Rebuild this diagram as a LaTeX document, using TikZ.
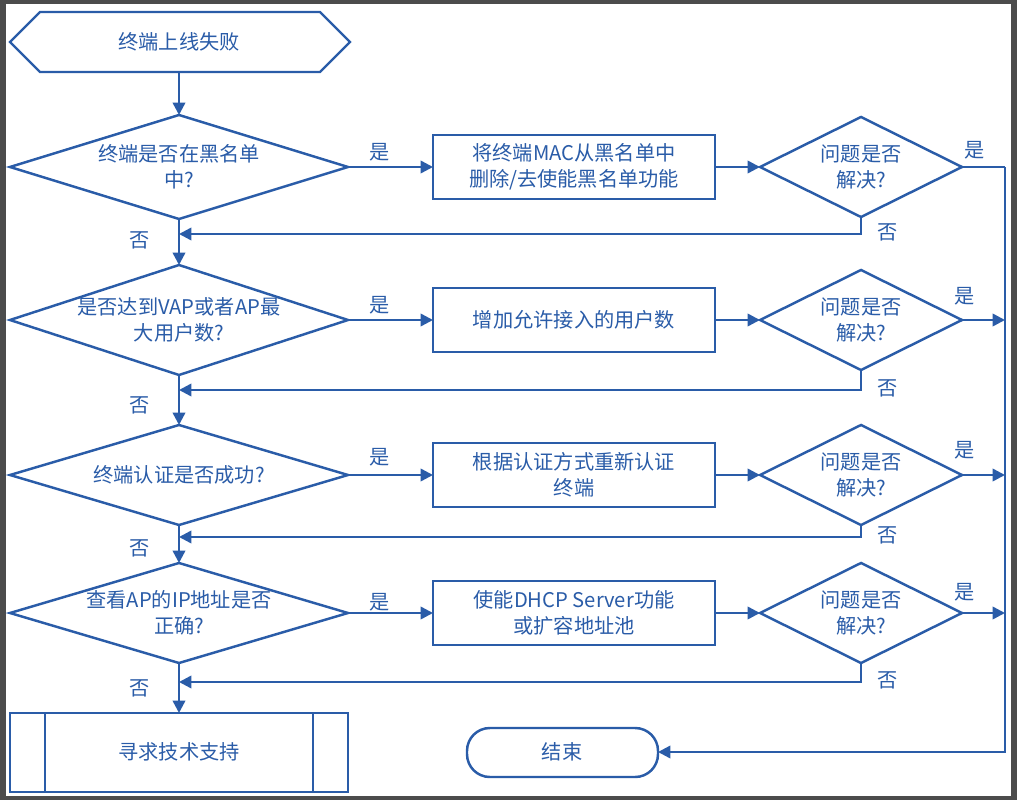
\documentclass[tikz,border=0pt]{standalone}
\usepackage{fontspec}
\setmainfont{Noto Sans CJK SC}
\usetikzlibrary{arrows.meta}
\definecolor{bl}{HTML}{2A5CA8}
\begin{document}
\begin{tikzpicture}[x=0.02cm,y=-0.02cm,
  ln/.style={draw=bl,line width=1.4pt},
  ar/.style={ln,-{Triangle[length=7pt,width=7pt]}},
  tx/.style={text=bl,font=\fontsize{11.5}{14.5}\selectfont,align=center,inner sep=0pt},
  lb/.style={text=bl,font=\fontsize{11.5}{13}\selectfont,inner sep=0pt}]
\fill[black!70] (0,0) rectangle (1017,800);
\fill[white] (6,4) rectangle (1011,796);
% start
\draw[ln,fill=white] (10,42)--(40,12)--(320,12)--(350,42)--(320,72)--(40,72)--cycle;
\node[tx] (s) at (179,42) {终端上线失败};
\coordinate (sb) at (179,72);
% main diamonds
\foreach \i/\y/\h in {1/167/52,2/320/55,3/475/50,4/613/50}{
  \draw[ln,fill=white] (10,\y)--(179,\y-\h)--(348,\y)--(179,\y+\h)--cycle;
  \coordinate (dT\i) at (179,\y-\h); \coordinate (dB\i) at (179,\y+\h);
  \coordinate (dR\i) at (348,\y);
  \draw[ln,fill=white] (433,\y-32)rectangle(715,\y+32);
  \coordinate (bL\i) at (433,\y); \coordinate (bR\i) at (715,\y);
  \draw[ln,fill=white] (760,\y)--(861,\y-50)--(962,\y)--(861,\y+50)--cycle;
  \coordinate (qL\i) at (760,\y); \coordinate (qR\i) at (962,\y);
  \coordinate (qB\i) at (861,\y+50);
  \node[tx] (q\i) at (861,\y) {问题是否\\解决?};
  \draw[ar] (dR\i)--(bL\i);
  \draw[ar] (bR\i)--(qL\i);
}
\node[tx] (d1) at (179,167) {终端是否在黑名单\\中?};
\node[tx] (d2) at (179,320) {是否达到VAP或者AP最\\大用户数?};
\node[tx] (d3) at (179,475) {终端认证是否成功?};
\node[tx] (d4) at (179,613) {查看AP的IP地址是否\\正确?};
\node[tx] (b1) at (574,167) {将终端MAC从黑名单中\\删除/去使能黑名单功能};
\node[tx] (b2) at (574,320) {增加允许接入的用户数};
\node[tx] (b3) at (574,475) {根据认证方式重新认证\\终端};
\node[tx] (b4) at (574,613) {使能DHCP Server功能\\或扩容地址池};
\foreach \y in {152,305,457,602}{\node[lb] at (380,\y) {是};}
\foreach \y in {240,405,548,688}{\node[lb] at (140,\y) {否};}
\foreach \y in {232,388,535,680}{\node[lb] at (888,\y) {否};}
\node[lb] at (975,150) {是};
\foreach \y in {296,450,592}{\node[lb] at (965,\y) {是};}
% returns
\foreach \i/\r in {1/234,2/390,3/537,4/682}{
  \coordinate (m\i) at (179,\r);
  \draw[ar] (qB\i)--(861,\r)--(m\i);
}
% bottom
\draw[ln,fill=white] (10,713) rectangle (348,792);
\draw[ln] (45,713)--(45,792) (313,713)--(313,792);
\node[tx] (help) at (179,752) {寻求技术支持};
\coordinate (hT) at (179,713);
\draw[ln,fill=white,rounded corners=13pt] (467,728) rectangle (658,777);
\node[tx] (end) at (562,752) {结束};
\coordinate (eR) at (658,752);
% trunk
\draw[ar] (sb)--(dT1);
\draw[ar] (dB1)--(dT2);
\draw[ar] (dB2)--(dT3);
\draw[ar] (dB3)--(dT4);
\draw[ar] (dB4)--(hT);
% right bus
\coordinate (bus) at (1005,167);
\draw[ln] (qR1)--(bus);
\draw[ar] (bus)--(1005,752)--(eR);
\foreach \i/\y in {2/320,3/475,4/613}{\draw[ar] (qR\i)--(1005,\y);}
\end{tikzpicture}
\end{document}
